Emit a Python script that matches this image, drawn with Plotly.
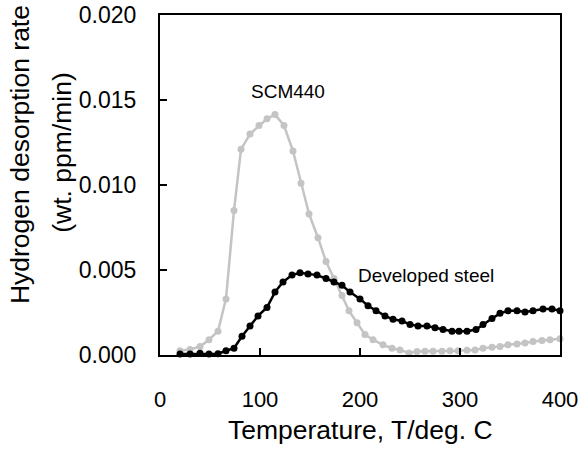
import plotly.graph_objects as go

# SCM440 (grey)
x_scm = [20, 30, 40, 49, 58, 66, 74, 81, 90, 99, 107, 115, 124, 133, 141, 149, 158, 166, 174, 182,
         189, 197, 205, 213, 223, 232, 240, 249, 257, 265, 273, 282, 290, 298, 307, 315, 323, 332,
         340, 348, 357, 365, 373, 382, 390, 400]
y_scm = [0.00025, 0.00033, 0.0005, 0.0009, 0.0014, 0.0033, 0.0085, 0.0121, 0.0130, 0.0135, 0.0139,
         0.01414, 0.0135, 0.0120, 0.0101, 0.0083, 0.0069, 0.0055, 0.0045, 0.0035, 0.0026, 0.0019,
         0.0012, 0.0009, 0.0006, 0.0004, 0.0003, 0.00012, 0.0002, 0.00022, 0.00022, 0.00022, 0.00025,
         0.00025, 0.00028, 0.0003, 0.0004, 0.00045, 0.0005, 0.0006, 0.00065, 0.0007, 0.0008, 0.00085,
         0.0009, 0.00095]

# Developed steel (black)
x_dev = [20, 30, 40, 49, 58, 66, 74, 82, 90, 98, 107, 115, 123, 132, 140, 148, 157, 166, 174, 182,
         190, 200, 208, 216, 225, 233, 242, 250, 258, 267, 275, 283, 292, 299, 307, 316, 323, 332,
         340, 348, 357, 365, 373, 383, 392, 400]
y_dev = [0.00006, 0.00006, 0.0001, 0.00006, 0.00008, 0.00025, 0.0004, 0.0011, 0.0017, 0.0023, 0.0028,
         0.0037, 0.0043, 0.0047, 0.00484, 0.00476, 0.0047, 0.0045, 0.0043, 0.0041, 0.0037, 0.0033,
         0.0029, 0.0026, 0.0023, 0.0021, 0.0020, 0.0018, 0.0017, 0.0017, 0.0016, 0.0015, 0.0014,
         0.0014, 0.0014, 0.0015, 0.0018, 0.00215, 0.00245, 0.0026, 0.0026, 0.00253, 0.0026, 0.0027,
         0.0027, 0.0026]

x_ticks = [0, 100, 200, 300, 400]
y_ticks = [0.000, 0.005, 0.010, 0.015, 0.020]

FONT = "Liberation Sans, Arial, sans-serif"

fig = go.Figure()
fig.add_trace(go.Scatter(x=x_scm, y=y_scm, mode="lines+markers",
                         line=dict(color="#c4c4c4", width=2.5),
                         marker=dict(color="#c4c4c4", size=7),
                         cliponaxis=False, showlegend=False))
fig.add_trace(go.Scatter(x=x_dev, y=y_dev, mode="lines+markers",
                         line=dict(color="#000000", width=2.5),
                         marker=dict(color="#000000", size=7),
                         cliponaxis=False, showlegend=False))

fig.update_layout(
    width=578, height=449,
    margin=dict(l=160, r=18, t=15, b=94),
    paper_bgcolor="white", plot_bgcolor="white",
    font=dict(family=FONT, color="black"),
    xaxis=dict(range=[0, 400], tickvals=x_ticks, ticktext=[str(v) for v in x_ticks],
               ticks="inside", ticklen=7, tickwidth=2, tickcolor="black",
               showline=True, linecolor="black", linewidth=2, mirror=True,
               showgrid=False, zeroline=False, tickfont=dict(size=22, family=FONT),
               ticklabelstandoff=24, ticklabeloverflow="allow", automargin=False),
    yaxis=dict(range=[0, 0.020], tickvals=y_ticks, ticktext=[f"{v:.3f}" for v in y_ticks],
               ticks="inside", ticklen=7, tickwidth=2, tickcolor="black",
               showline=True, linecolor="black", linewidth=2, mirror=True,
               showgrid=False, zeroline=False, tickfont=dict(size=23, family=FONT),
               ticklabelstandoff=17, ticklabeloverflow="allow", automargin=False),
    annotations=[
        dict(text="SCM440", x=128, y=0.0155, xref="x", yref="y", showarrow=False,
             font=dict(size=19, family=FONT)),
        dict(text="Developed steel", x=266, y=0.0047, xref="x", yref="y", showarrow=False,
             font=dict(size=19, family=FONT)),
        dict(text="Temperature, T/deg. C", x=0.5, y=-0.22, xref="paper", yref="paper",
             showarrow=False, xanchor="center", yanchor="middle", font=dict(size=26.5, family=FONT)),
        dict(text="Hydrogen desorption rate", x=-0.35, y=0.588, xref="paper", yref="paper",
             showarrow=False, textangle=-90, xanchor="center", yanchor="middle",
             font=dict(size=26.5, family=FONT)),
        dict(text="(wt. ppm/min)", x=-0.245, y=0.595, xref="paper", yref="paper",
             showarrow=False, textangle=-90, xanchor="center", yanchor="middle",
             font=dict(size=26.5, family=FONT)),
    ],
)

fig.write_html("out.html")
